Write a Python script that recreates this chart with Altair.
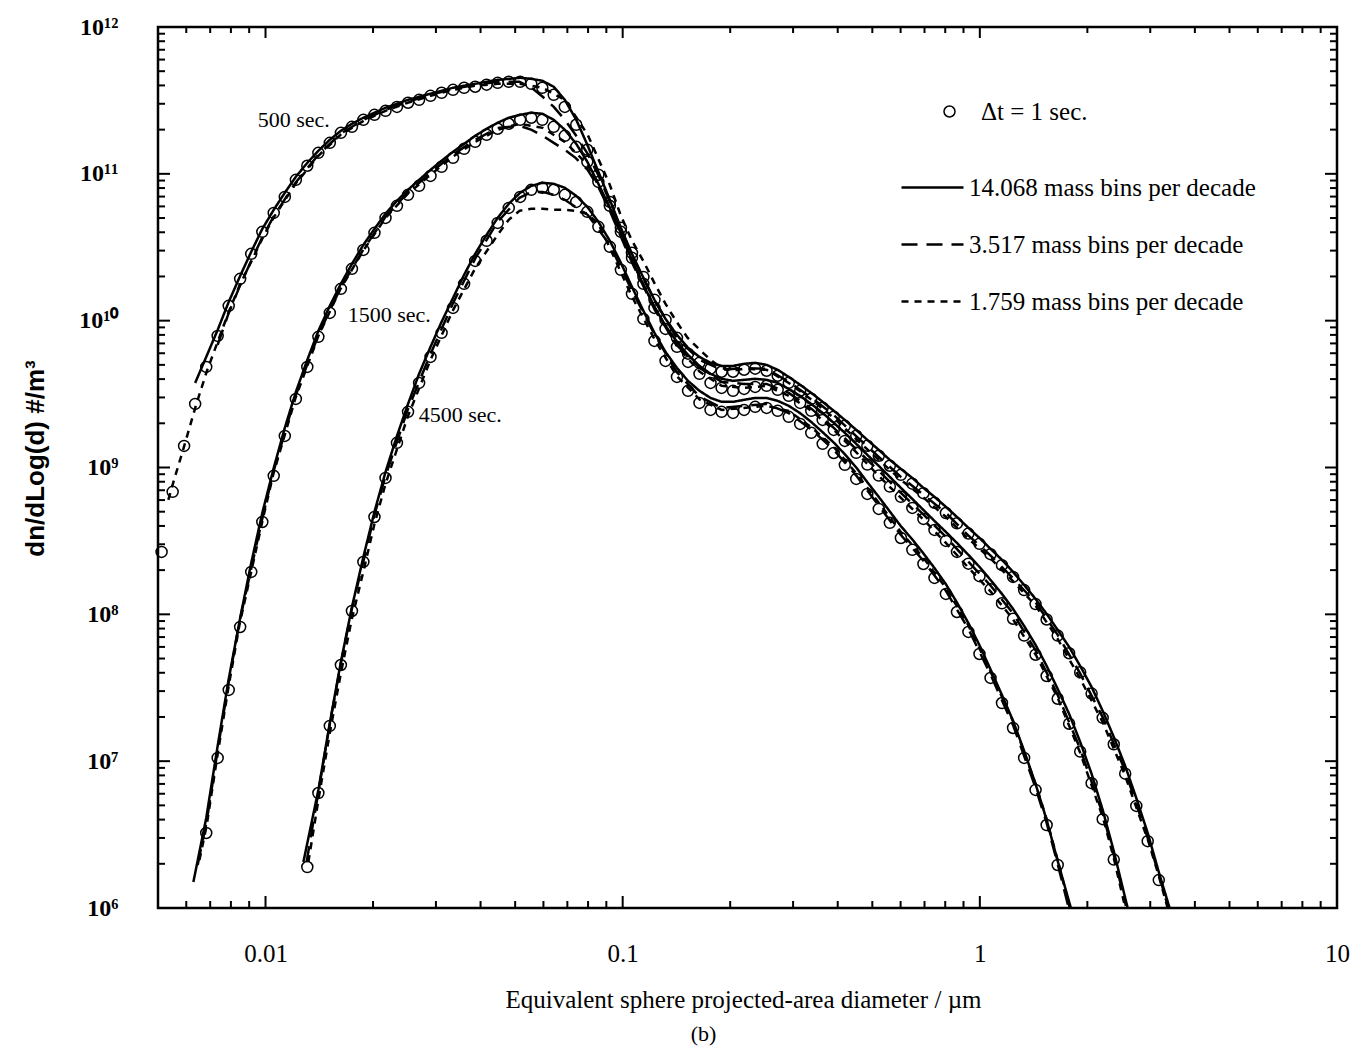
import altair as alt
import pandas as pd

# ------------------------------------------------------------------ data
# log10 of diameter (µm) of the size-bin grid used by the Δt = 1 s solution
grid_log_d = [
    -2.291, -2.260, -2.228, -2.197, -2.166, -2.134, -2.103, -2.071, -2.040, -2.009,
    -1.977, -1.946, -1.915, -1.883, -1.852, -1.820, -1.789, -1.758, -1.726, -1.695,
    -1.664, -1.632, -1.601, -1.570, -1.538, -1.507, -1.475, -1.444, -1.413, -1.381,
    -1.350, -1.319, -1.287, -1.256, -1.225, -1.193, -1.162, -1.130, -1.099, -1.068,
    -1.036, -1.005, -0.974, -0.942, -0.911, -0.880, -0.848, -0.817, -0.785, -0.754,
    -0.723, -0.691, -0.660, -0.629, -0.597, -0.566, -0.535, -0.503, -0.472, -0.440,
    -0.409, -0.378, -0.346, -0.315, -0.283, -0.252, -0.221, -0.189, -0.158, -0.127,
    -0.095, -0.064, -0.032, -0.001, 0.030, 0.062, 0.093, 0.124, 0.156, 0.187,
    0.218, 0.250, 0.281, 0.313, 0.344, 0.375, 0.407, 0.438, 0.470, 0.501, 0.532]

# circles (Δt = 1 sec.): first grid index and log10(dn/dlogd)
c500_first = 0
c500_log_n = [
    8.425, 8.834, 9.147, 9.433, 9.685, 9.896, 10.101, 10.285, 10.455, 10.605,
    10.734, 10.843, 10.959, 11.055, 11.143, 11.211, 11.279, 11.320, 11.368, 11.402,
    11.429, 11.456, 11.484, 11.504, 11.531, 11.552, 11.572, 11.586, 11.593, 11.607,
    11.620, 11.627, 11.627, 11.613, 11.586, 11.538, 11.456, 11.334, 11.164, 10.994,
    10.809, 10.632, 10.462, 10.298, 10.142, 10.005, 9.883, 9.775, 9.713, 9.673,
    9.652, 9.652, 9.666, 9.673, 9.659, 9.625, 9.577, 9.523, 9.468, 9.407,
    9.346, 9.284, 9.216, 9.148, 9.080, 9.012, 8.950, 8.890, 8.825, 8.760,
    8.690, 8.620, 8.550, 8.480, 8.410, 8.335, 8.255, 8.165, 8.070, 7.965,
    7.855, 7.735, 7.605, 7.460, 7.295, 7.115, 6.915, 6.695, 6.455, 6.190]
c1500_first = 4
c1500_log_n = [
    6.511, 7.022, 7.485, 7.914, 8.289, 8.629,
    8.943, 9.215, 9.467, 9.685, 9.890, 10.053, 10.217, 10.353, 10.482, 10.598,
    10.700, 10.782, 10.857, 10.918, 10.986, 11.048, 11.109, 11.170, 11.218, 11.266,
    11.307, 11.341, 11.368, 11.382, 11.368, 11.320, 11.259, 11.184, 11.082, 10.945,
    10.782, 10.605, 10.428, 10.251, 10.087, 9.944, 9.822, 9.719, 9.638, 9.576,
    9.542, 9.522, 9.535, 9.549, 9.556, 9.529, 9.488, 9.440, 9.386, 9.324,
    9.256, 9.181, 9.100, 9.020, 8.945, 8.870, 8.800, 8.725, 8.650, 8.575,
    8.500, 8.425, 8.345, 8.260, 8.170, 8.075, 7.970, 7.855, 7.725, 7.580,
    7.425, 7.255, 7.065, 6.850, 6.605, 6.330]
c4500_first = 13
c4500_log_n = [
    6.279, 6.783, 7.240, 7.655, 8.023, 8.357, 8.663,
    8.929, 9.168, 9.379, 9.576, 9.753, 9.917, 10.087, 10.251, 10.407, 10.544,
    10.666, 10.768, 10.843, 10.891, 10.905, 10.891, 10.857, 10.809, 10.741, 10.639,
    10.503, 10.346, 10.183, 10.012, 9.862, 9.726, 9.617, 9.522, 9.440, 9.392,
    9.379, 9.372, 9.392, 9.413, 9.406, 9.386, 9.345, 9.297, 9.236, 9.161,
    9.099, 9.018, 8.922, 8.820, 8.718, 8.623, 8.520, 8.439, 8.343, 8.248,
    8.139, 8.016, 7.880, 7.730, 7.567, 7.396, 7.226, 7.022, 6.804, 6.565, 6.293]

# solid lines (14.068 mass bins per decade): head point, grid part, tail point
s500_head = []
s500_first = 3
s500_log_n = [
    9.576, 9.753, 9.937, 10.128, 10.305, 10.469, 10.625,
    10.755, 10.871, 10.980, 11.075, 11.157, 11.232, 11.293, 11.341, 11.382, 11.416,
    11.450, 11.477, 11.504, 11.525, 11.545, 11.566, 11.586, 11.600, 11.613, 11.627,
    11.640, 11.647, 11.654, 11.647, 11.634, 11.593, 11.504, 11.368, 11.198, 11.014,
    10.823, 10.632, 10.455, 10.292, 10.142, 10.012, 9.903, 9.815, 9.753, 9.713,
    9.692, 9.692, 9.706, 9.713, 9.699, 9.665, 9.617, 9.563, 9.508, 9.447,
    9.386, 9.324, 9.256, 9.188, 9.120, 9.052, 8.990, 8.929, 8.861, 8.800,
    8.732, 8.663, 8.589, 8.520, 8.446, 8.371, 8.289, 8.200, 8.105, 8.003,
    7.894, 7.778, 7.648, 7.505, 7.342, 7.165, 6.967, 6.749, 6.511, 6.245]
s500_tail = [(0.535, 5.97)]

s1500_head = [(-2.202, 6.177)]
s1500_first = 4
s1500_log_n = [
    6.613, 7.104, 7.560, 7.976, 8.350, 8.691,
    8.997, 9.270, 9.515, 9.733, 9.931, 10.101, 10.251, 10.387, 10.516, 10.625,
    10.728, 10.816, 10.891, 10.959, 11.027, 11.089, 11.150, 11.204, 11.259, 11.307,
    11.348, 11.382, 11.402, 11.416, 11.409, 11.368, 11.300, 11.204, 11.082, 10.932,
    10.770, 10.595, 10.414, 10.244, 10.094, 9.965, 9.856, 9.767, 9.692, 9.638,
    9.604, 9.590, 9.597, 9.604, 9.597, 9.576, 9.535, 9.488, 9.433, 9.372,
    9.304, 9.236, 9.161, 9.086, 9.011, 8.936, 8.861, 8.786, 8.711, 8.636,
    8.561, 8.486, 8.405, 8.323, 8.234, 8.139, 8.037, 7.921, 7.792, 7.649,
    7.492, 7.322, 7.131, 6.913, 6.668, 6.388, 6.068]
s1500_tail = [(0.415, 5.99)]

s4500_head = [(-1.894, 6.313)]
s4500_first = 14
s4500_log_n = [
    6.804, 7.260, 7.676, 8.050, 8.391, 8.698,
    8.970, 9.215, 9.433, 9.638, 9.822, 9.992, 10.155, 10.312, 10.455, 10.585,
    10.700, 10.796, 10.871, 10.918, 10.939, 10.932, 10.905, 10.850, 10.775, 10.673,
    10.544, 10.394, 10.230, 10.067, 9.917, 9.787, 9.678, 9.590, 9.522, 9.474,
    9.447, 9.447, 9.461, 9.474, 9.474, 9.454, 9.420, 9.370, 9.310, 9.240,
    9.170, 9.090, 9.000, 8.900, 8.800, 8.700, 8.600, 8.510, 8.415, 8.315,
    8.205, 8.080, 7.940, 7.790, 7.625, 7.450, 7.275, 7.070, 6.845, 6.600, 6.320]
s4500_tail = [(0.256, 5.99)]

# long dashed lines (3.517 mass bins per decade)
l500_log_d = [-2.134, -2.104, -2.073, -2.039, -2.008, -1.978, -1.916, -1.852, -1.790, -1.725,
              -1.664, -1.602, -1.538, -1.476, -1.412, -1.350, -1.289, -1.255, -1.224, -1.193,
              -1.162, -1.132, -1.098, -1.067, -1.036, -0.975, -0.910, -0.849, -0.784, -0.723,
              -0.661, -0.597, -0.535, -0.471, -0.409, -0.347, -0.283, -0.221, -0.157, -0.095,
              -0.034, 0.031, 0.092, 0.157, 0.218, 0.280, 0.345, 0.406, 0.471, 0.501, 0.529]
l500_log_n = [9.835, 10.046, 10.230, 10.414, 10.571, 10.707, 10.939, 11.130, 11.273, 11.368,
              11.436, 11.491, 11.538, 11.579, 11.606, 11.627, 11.627, 11.586, 11.525, 11.456,
              11.368, 11.266, 11.136, 10.986, 10.809, 10.448, 10.135, 9.883, 9.733, 9.665,
              9.678, 9.672, 9.583, 9.474, 9.358, 9.215, 9.072, 8.936, 8.813, 8.691,
              8.541, 8.398, 8.248, 8.078, 7.860, 7.601, 7.294, 6.940, 6.470, 6.230, 5.990]
l1500_log_d = [-2.190, -2.165, -2.134, -2.104, -2.073, -2.039, -2.008, -1.978, -1.916, -1.852,
               -1.790, -1.725, -1.664, -1.602, -1.538, -1.476, -1.412, -1.350, -1.289, -1.255,
               -1.224, -1.193, -1.162, -1.132, -1.098, -1.067, -1.036, -0.975, -0.910, -0.849,
               -0.784, -0.723, -0.661, -0.597, -0.535, -0.471, -0.409, -0.347, -0.283, -0.221,
               -0.157, -0.095, -0.034, 0.031, 0.092, 0.157, 0.218, 0.280, 0.345, 0.375, 0.409]
l1500_log_n = [6.293, 6.586, 7.076, 7.526, 7.948, 8.323, 8.663, 8.970, 9.488, 9.903,
               10.223, 10.489, 10.707, 10.871, 11.007, 11.130, 11.232, 11.313, 11.327, 11.300,
               11.259, 11.211, 11.164, 11.109, 11.027, 10.905, 10.748, 10.401, 10.074, 9.835,
               9.678, 9.583, 9.569, 9.569, 9.508, 9.399, 9.270, 9.127, 8.977, 8.827,
               8.677, 8.527, 8.364, 8.193, 8.010, 7.751, 7.451, 7.090, 6.634, 6.361, 6.014]
l4500_log_d = [-1.885, -1.852, -1.821, -1.790, -1.759, -1.725, -1.695, -1.664, -1.602, -1.538,
               -1.476, -1.412, -1.350, -1.289, -1.255, -1.224, -1.193, -1.162, -1.098, -1.036,
               -0.975, -0.910, -0.849, -0.784, -0.723, -0.661, -0.597, -0.535, -0.472, -0.409,
               -0.346, -0.283, -0.221, -0.158, -0.095, -0.032, 0.030, 0.093, 0.156, 0.187,
               0.218, 0.250]
l4500_log_n = [6.313, 6.790, 7.240, 7.655, 8.030, 8.371, 8.677, 8.943, 9.392, 9.774,
               10.114, 10.428, 10.673, 10.837, 10.877, 10.877, 10.857, 10.823, 10.721, 10.516,
               10.210, 9.903, 9.651, 9.481, 9.406, 9.420, 9.433, 9.370, 9.260, 9.120,
               8.945, 8.740, 8.540, 8.365, 8.160, 7.900, 7.590, 7.245, 6.820, 6.580,
               6.300, 5.990]

# short dashed lines (1.759 mass bins per decade)
d500_log_d = [-2.272, -2.261, -2.230, -2.196, -2.165, -2.134, -2.104, -2.073, -2.039, -2.008,
              -1.978, -1.916, -1.852, -1.790, -1.725, -1.664, -1.602, -1.538, -1.476, -1.412,
              -1.350, -1.289, -1.224, -1.162, -1.098, -1.036, -1.006, -0.975, -0.941, -0.910,
              -0.880, -0.849, -0.818, -0.784, -0.754, -0.723, -0.692, -0.661, -0.597, -0.535,
              -0.471, -0.409, -0.347, -0.283, -0.221, -0.157, -0.095, -0.034, 0.031, 0.092,
              0.157, 0.218, 0.280, 0.345, 0.406, 0.471, 0.501, 0.527]
d500_log_n = [8.779, 8.875, 9.127, 9.413, 9.651, 9.856, 10.053, 10.237, 10.407, 10.564,
              10.700, 10.932, 11.123, 11.266, 11.361, 11.429, 11.484, 11.531, 11.572, 11.600,
              11.613, 11.613, 11.586, 11.504, 11.266, 10.925, 10.721, 10.550, 10.401, 10.251,
              10.114, 9.992, 9.883, 9.801, 9.733, 9.678, 9.658, 9.672, 9.665, 9.576,
              9.461, 9.338, 9.195, 9.052, 8.916, 8.793, 8.663, 8.520, 8.377, 8.228,
              8.057, 7.832, 7.567, 7.260, 6.906, 6.460, 6.220, 5.990]
d1500_log_d = [-2.185, -2.165, -2.134, -2.104, -2.073, -2.039, -2.008, -1.978, -1.916, -1.852,
               -1.790, -1.725, -1.664, -1.602, -1.538, -1.476, -1.412, -1.350, -1.289, -1.224,
               -1.162, -1.098, -1.036, -0.975, -0.910, -0.849, -0.784, -0.723, -0.661, -0.597,
               -0.535, -0.471, -0.409, -0.347, -0.283, -0.221, -0.157, -0.095, -0.034, 0.031,
               0.092, 0.157, 0.218, 0.280, 0.345, 0.375, 0.406]
d1500_log_n = [6.327, 6.559, 7.049, 7.499, 7.928, 8.302, 8.643, 8.956, 9.474, 9.896,
               10.217, 10.482, 10.700, 10.864, 10.993, 11.116, 11.218, 11.300, 11.341, 11.313,
               11.218, 11.061, 10.768, 10.414, 10.087, 9.829, 9.651, 9.556, 9.542, 9.556,
               9.488, 9.386, 9.256, 9.106, 8.943, 8.793, 8.643, 8.486, 8.323, 8.153,
               7.969, 7.723, 7.431, 7.063, 6.613, 6.341, 6.014]
d4500_log_d = [-1.880, -1.852, -1.821, -1.790, -1.759, -1.725, -1.695, -1.664, -1.602, -1.538,
               -1.476, -1.412, -1.350, -1.319, -1.289, -1.255, -1.224, -1.193, -1.162, -1.132,
               -1.098, -1.067, -1.036, -0.975, -0.910, -0.849, -0.784, -0.723, -0.661, -0.597,
               -0.535, -0.472, -0.409, -0.346, -0.283, -0.221, -0.158, -0.095, -0.032, 0.030,
               0.093, 0.156, 0.187, 0.218, 0.253]
d4500_log_n = [6.313, 6.736, 7.178, 7.587, 7.962, 8.302, 8.616, 8.888, 9.345, 9.733,
               10.067, 10.360, 10.585, 10.687, 10.748, 10.762, 10.762, 10.755, 10.755, 10.748,
               10.728, 10.653, 10.496, 10.169, 9.869, 9.624, 9.461, 9.392, 9.406, 9.420,
               9.385, 9.275, 9.140, 8.960, 8.760, 8.560, 8.385, 8.180, 7.925, 7.610,
               7.270, 6.845, 6.605, 6.325, 5.990]

# curve labels
time_labels = ["500 sec.", "1500 sec.", "4500 sec."]
time_label_log_d = [-2.022, -1.770, -1.571]
time_label_log_n = [11.368, 10.040, 9.358]

lbl_circles = "Δt = 1 sec."
lbl_fine = "14.068 mass bins per decade"
lbl_mid = "3.517 mass bins per decade"
lbl_coarse = "1.759 mass bins per decade"

# axis ticks
x_major = [0.01, 0.1, 1, 10]
x_minor = [m * 10.0 ** e for e in (-3, -2, -1, 0) for m in range(2, 10) if 0.005 < m * 10.0 ** e < 10]
y_major = [1e6, 1e7, 1e8, 1e9, 1e10, 1e11, 1e12]
y_minor = [m * 10.0 ** e for e in range(6, 12) for m in range(2, 10)]

# ------------------------------------------------------------------ tables
def grid_part(first, log_n):
    return list(zip(grid_log_d[first:first + len(log_n)], log_n))

circle_rows = []
for t, first, vals in [("500", c500_first, c500_log_n),
                       ("1500", c1500_first, c1500_log_n),
                       ("4500", c4500_first, c4500_log_n)]:
    for ld, ln in grid_part(first, vals):
        circle_rows.append({"time": t, "series": lbl_circles, "logd": ld, "logn": ln})
circles = pd.DataFrame(circle_rows)

line_rows = []
def add_line(name, series, pts):
    for i, (ld, ln) in enumerate(pts):
        line_rows.append({"curve": name, "series": series, "i": i, "logd": ld, "logn": ln})

add_line("s500", lbl_fine, s500_head + grid_part(s500_first, s500_log_n) + s500_tail)
add_line("s1500", lbl_fine, s1500_head + grid_part(s1500_first, s1500_log_n) + s1500_tail)
add_line("s4500", lbl_fine, s4500_head + grid_part(s4500_first, s4500_log_n) + s4500_tail)
add_line("l500", lbl_mid, list(zip(l500_log_d, l500_log_n)))
add_line("l1500", lbl_mid, list(zip(l1500_log_d, l1500_log_n)))
add_line("l4500", lbl_mid, list(zip(l4500_log_d, l4500_log_n)))
add_line("d500", lbl_coarse, list(zip(d500_log_d, d500_log_n)))
add_line("d1500", lbl_coarse, list(zip(d1500_log_d, d1500_log_n)))
add_line("d4500", lbl_coarse, list(zip(d4500_log_d, d4500_log_n)))
lines = pd.DataFrame(line_rows)

labels = pd.DataFrame({"text": time_labels, "logd": time_label_log_d, "logn": time_label_log_n})

for df in (circles, lines, labels):
    df["d"] = 10 ** df["logd"]
    df["n"] = 10 ** df["logn"]

# ------------------------------------------------------------------ chart
W, H = 1179, 881
SERIF = "Liberation Serif, Times New Roman, serif"

x_scale = alt.Scale(type="log", domain=[0.005, 10], nice=False)
y_scale = alt.Scale(type="log", domain=[1e6, 1e12], nice=False)

x_axis = alt.Axis(values=x_major, format="~g", ticks=False, tickSize=0, domain=False, grid=False,
                  labelFont=SERIF, labelFontSize=25, labelColor="black", labelPadding=33,
                  labelFlush=False,
                  titleFont=SERIF, titleFontSize=25, titleFontWeight="normal", titleColor="black",
                  titleX=585, titleY=91, titleAlign="center", titleBaseline="middle")
sup = "['\u2076','\u2077','\u2078','\u2079','\u00b9\u2070','\u00b9\u00b9','\u00b9\u00b2']"
y_axis = alt.Axis(values=y_major, labelExpr="'10' + " + sup + "[round(log(datum.value)/LN10) - 6]",
                  ticks=False, tickSize=0, domain=False, grid=False,
                  labelFont=SERIF, labelFontSize=24, labelFontWeight="bold", labelColor="black",
                  labelPadding=40,
                  titleFont="Liberation Sans, Arial, sans-serif", titleFontSize=26,
                  titleFontWeight="bold", titleColor="black",
                  titleX=-123, titleY=431, titleAngle=270, titleAlign="center",
                  titleBaseline="middle")

X_TITLE = "Equivalent sphere projected-area diameter / µm"
Y_TITLE = "dn/dLog(d) #/m³"
X = alt.X("d:Q", scale=x_scale, axis=x_axis, title=X_TITLE)
Y = alt.Y("n:Q", scale=y_scale, axis=y_axis, title=Y_TITLE)

line_legend = alt.Legend(title=None, orient="none", legendX=742, legendY=128,
                         symbolType="stroke", symbolSize=3844, symbolStrokeWidth=2.5,
                         symbolStrokeColor="black", labelFont=SERIF, labelFontSize=25,
                         labelColor="black", labelOffset=4, labelLimit=600, rowPadding=11,
                         padding=0)
point_legend = alt.Legend(title=None, orient="none", legendX=779, legendY=72,
                          symbolSize=121, symbolStrokeWidth=1.5, symbolStrokeColor="black",
                          symbolFillColor="transparent", labelFont=SERIF, labelFontSize=25,
                          labelColor="black", labelOffset=19, labelLimit=600, padding=0)

line_layer = alt.Chart(lines).mark_line(color="black", strokeWidth=2.5, clip=True).encode(
    x=X, y=Y,
    detail="curve:N",
    order="i:Q",
    strokeDash=alt.StrokeDash("series:N",
                              scale=alt.Scale(domain=[lbl_fine, lbl_mid, lbl_coarse],
                                              range=[[1, 0], [16, 9], [7, 6]]),
                              legend=line_legend),
)

point_layer = alt.Chart(circles).mark_point(filled=False, color="black", size=121,
                                            strokeWidth=1.5, opacity=1).encode(
    x=X, y=Y,
    shape=alt.Shape("series:N", scale=alt.Scale(domain=[lbl_circles], range=["circle"]),
                    legend=point_legend),
)

text_layer = alt.Chart(labels).mark_text(align="left", baseline="middle", font=SERIF,
                                         fontSize=22, color="black").encode(
    x=X, y=Y, text="text:N",
)


def tick_rules(values, side, length):
    if side in ("bottom", "top"):
        base = alt.Chart(pd.DataFrame({"d": values})).mark_rule(color="black", strokeWidth=2)
        if side == "bottom":
            return base.encode(x=X, y=alt.value(H), y2=alt.value(H - length))
        return base.encode(x=X, y=alt.value(0), y2=alt.value(length))
    base = alt.Chart(pd.DataFrame({"n": values})).mark_rule(color="black", strokeWidth=2)
    if side == "left":
        return base.encode(y=Y, x=alt.value(0), x2=alt.value(length))
    return base.encode(y=Y, x=alt.value(W), x2=alt.value(W - length))


ticks = [
    tick_rules(x_major, "bottom", 12), tick_rules(x_minor, "bottom", 7),
    tick_rules(x_major, "top", 11), tick_rules(x_minor, "top", 6),
    tick_rules(y_major, "left", 12), tick_rules(y_minor, "left", 7),
    tick_rules(y_major, "right", 12), tick_rules(y_minor, "right", 7),
]

chart = alt.layer(line_layer, point_layer, text_layer, *ticks).properties(
    width=W, height=H,
    padding={"left": 158, "top": 27, "right": 22, "bottom": 142},
    autosize=alt.AutoSizeParams(type="none"),
    title=alt.TitleParams(text="(b)", orient="bottom", anchor="middle", dx=-44, offset=12,
                          font=SERIF, fontSize=22, fontWeight="normal", color="black"),
).configure(background="white").configure_view(stroke="black", strokeWidth=2.5)

chart.save("out.html", embed_options={"renderer": "svg", "actions": False})
